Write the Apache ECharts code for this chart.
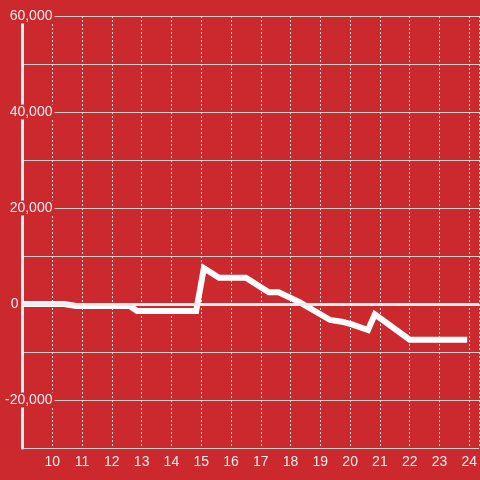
<!DOCTYPE html>
<html>
<head>
<meta charset="utf-8">
<script src="https://cdn.jsdelivr.net/npm/echarts@6/dist/echarts.min.js"></script>
<style>
    html, body { margin: 0; padding: 0; background: #cc292e; }
    #chart { width: 480px; height: 480px; }
</style>
</head>
<body>
<div id="chart"></div>
<script>
// hour of day and running total
const hours = [9, 10.4, 10.8, 12.6, 12.85, 14.83, 15.09, 15.6, 16.5, 17.27, 17.6, 18.3, 19.33, 19.72, 20.06, 20.6, 20.83, 22.0, 23.93]
const totals = [0, 0, -400, -400, -1450, -1450, 7450, 5480, 5480, 2430, 2430, 400, -3330, -3680, -4240, -5420, -2150, -7430, -7430]
const yLabelValues = [-20000, 0, 20000, 40000, 60000]

const bg = '#cc292e'

const chart = echarts.init(document.getElementById('chart'))

chart.setOption({
    backgroundColor: bg,
    animation: false,
    grid: { left: 20, right: 0, top: 16, bottom: 32 },
    xAxis: {
        type: 'value',
        min: 9,
        max: 24 + 1 / 3,
        interval: 1,
        axisLine: { lineStyle: { color: '#cccccc', width: 1 } },
        axisTick: { show: false },
        axisLabel: {
            showMinLabel: false,
            showMaxLabel: false,
            color: '#eeeeee',
            fontSize: 14,
            fontFamily: 'Liberation Sans',
            margin: 7,
            formatter: v => Number.isInteger(v) ? String(v) : ''
        },
        splitLine: { show: true, lineStyle: { color: '#dddddd', type: [2, 2], width: 1 } }
    },
    yAxis: {
        type: 'value',
        min: -30000,
        max: 60000,
        interval: 10000,
        axisLine: { show: true, lineStyle: { color: '#eeeeee', width: 3 } },
        axisTick: { show: false },
        axisLabel: {
            align: 'right',
            margin: -32,
            color: '#eeeeee',
            fontSize: 14,
            fontFamily: 'Liberation Sans',
            formatter: v => {
                if (!yLabelValues.includes(v)) return ''
                if (v === 0) return '{z|0}'
                return '{a|' + v.toLocaleString('en-US') + '}'
            },
            rich: {
                a: { color: '#eeeeee', fontSize: 14, fontFamily: 'Liberation Sans', backgroundColor: bg, padding: [1, 2, 0, 2] },
                z: { color: '#eeeeee', fontSize: 14, fontFamily: 'Liberation Sans', padding: [0, 36, 0, 0] }
            }
        },
        splitLine: { show: true, lineStyle: { color: '#cccccc', width: 1 } }
    },
    series: [
        {
            type: 'line',
            data: [],
            z: 1,
            markLine: {
                silent: true,
                symbol: 'none',
                label: { show: false },
                lineStyle: { color: '#eeeeee', width: 3, type: 'solid' },
                data: [{ yAxis: 0 }]
            }
        },
        {
            type: 'line',
            z: 3,
            data: hours.map((h, i) => [h, totals[i]]),
            showSymbol: false,
            lineStyle: { color: '#ffffff', width: 6, join: 'miter' }
        }
    ]
})
</script>
</body>
</html>
